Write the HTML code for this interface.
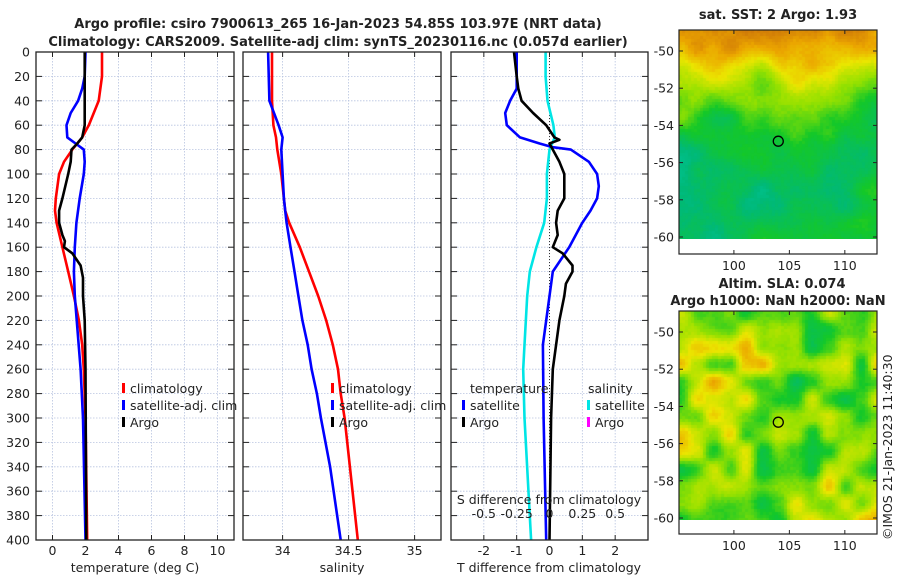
<!DOCTYPE html>
<html><head><meta charset="utf-8">
<style>
body{margin:0;background:#fff;}
#wrap{position:relative;width:900px;height:580px;overflow:hidden;font-family:"DejaVu Sans","Liberation Sans",sans-serif;}
svg{position:absolute;left:0;top:0;}
canvas{position:absolute;}
text{font-family:"DejaVu Sans","Liberation Sans",sans-serif;font-size:12.5px;fill:#222;}
.b{font-weight:bold;font-size:13px;}
</style></head>
<body>
<div id="wrap">
<canvas id="map1" width="198" height="209" style="left:679px;top:30px"></canvas>
<canvas id="map2" width="198" height="209" style="left:679px;top:311px"></canvas>
<svg id="fig" width="900" height="580" xmlns="http://www.w3.org/2000/svg"></svg>
</div>
<script>
// ---- data ----
const tDepth   = [0,20,40,60,70,80,90,100,120,130,140,160,180,200,220,240,260,300,400];
const tClim    = [3.0,3.0,2.8,2.2,1.8,1.2,0.7,0.4,0.2,0.15,0.25,0.6,0.95,1.3,1.6,1.8,1.9,2.0,2.1];
const tSatDepth= [0,20,30,40,50,60,70,75,80,90,100,120,140,160,180,200,260,300,400];
const tSat     = [2.0,1.95,1.8,1.55,1.1,0.85,0.9,1.4,1.9,1.95,1.9,1.65,1.45,1.35,1.3,1.35,1.7,1.85,2.0];
const argoDepth= [0,60,70,75,80,90,100,120,130,140,150,155,160,165,175,185,200,220,260,400];
const tArgo    = [1.95,1.95,1.8,1.5,1.15,1.1,0.95,0.6,0.4,0.4,0.6,0.75,0.7,1.2,1.7,1.85,1.85,1.95,2.0,2.05];
const sDepth   = [0,40,60,70,80,100,120,130,140,160,180,200,220,240,260,280,300,340,400];
const sClim    = [33.92,33.92,33.93,33.95,33.96,33.99,34.01,34.02,34.05,34.13,34.2,34.27,34.33,34.38,34.42,34.44,34.47,34.51,34.57];
const sSat     = [33.89,33.9,33.97,34.0,33.99,34.0,34.01,34.02,34.03,34.06,34.09,34.12,34.15,34.19,34.22,34.26,34.29,34.36,34.44];
const dDepth   = [0,20,30,40,50,60,70,75,78,80,90,100,110,120,130,140,160,180,200,220,240,300,400];
const dTSat    = [-1.0,-1.0,-1.0,-1.2,-1.35,-1.3,-0.9,-0.3,0.1,0.65,1.2,1.45,1.5,1.45,1.25,1.0,0.6,0.1,0.0,-0.1,-0.2,-0.18,-0.1];
const dArgoDepth=[0,20,30,40,50,60,70,72,75,80,90,100,120,130,140,150,160,165,175,180,190,200,220,240,260,300,400];
const dTArgo   = [-1.08,-1.0,-0.95,-0.85,-0.5,-0.1,0.15,0.3,0.0,0.1,0.3,0.45,0.45,0.25,0.2,0.25,0.1,0.4,0.7,0.7,0.5,0.45,0.3,0.2,0.1,0.05,0.0];
const dSDepth  = [0,20,40,60,70,80,100,120,140,160,180,200,240,260,300,400];
const dSSat    = [-0.03,-0.03,-0.015,0.03,0.04,0.0,-0.02,-0.02,-0.04,-0.1,-0.15,-0.17,-0.19,-0.2,-0.19,-0.14];
const depthTicks=[0,20,40,60,80,100,120,140,160,180,200,220,240,260,280,300,320,340,360,380,400];
const tTicks=[0,2,4,6,8,10];
const sTicks=[34,34.5,35];
const sTickLabels=['34','34.5','35'];
const dTTicks=[-2,-1,0,1,2];
const dSTicks=[-0.5,-0.25,0,0.25,0.5];
const latTicks=[-50,-52,-54,-56,-58,-60];
const lonTicks=[100,105,110];
const argoLon=104, argoLat=-54.85;

const NS='http://www.w3.org/2000/svg';
const svg=document.getElementById('fig');
function el(tag,attrs,parent){const e=document.createElementNS(NS,tag);for(const k in attrs)e.setAttribute(k,attrs[k]);(parent||svg).appendChild(e);return e;}
function txt(x,y,s,anchor,cls,name,extra){const t=el('text',Object.assign({x:x,y:y,'text-anchor':anchor||'middle'},extra||{}));if(cls)t.setAttribute('class',cls);t.textContent=s;


return t;}

const Y0=52,Y1=540;
const yD=d=>Y0+(d/400)*(Y1-Y0);
function lin(d0,d1,p0,p1){return v=>p0+(v-d0)/(d1-d0)*(p1-p0);}
const panels=[
 {x0:36,x1:234,sx:lin(-1,11,36,234),name:'temperature-panel'},
 {x0:243,x1:441,sx:lin(33.7,35.2,243,441),name:'salinity-panel'},
 {x0:451,x1:648,sx:lin(-3,3,451,648),name:'difference-panel'}];
const sxS=lin(-0.75,0.75,451,648);

function grid(p,xt){
 const g=el('g',{});
 
 
 depthTicks.forEach(d=>{el('line',{x1:p.x0,x2:p.x1,y1:yD(d),y2:yD(d),stroke:'#b8c4e0','stroke-width':0.8,'stroke-dasharray':'1.5,1.5'},g);
  el('line',{x1:p.x0,x2:p.x0+6,y1:yD(d),y2:yD(d),stroke:'#222'},g);
  el('line',{x1:p.x1-6,x2:p.x1,y1:yD(d),y2:yD(d),stroke:'#222'},g);});
 xt.forEach(v=>{const x=p.sx(v);el('line',{x1:x,x2:x,y1:Y0,y2:Y1,stroke:'#b8c4e0','stroke-width':0.8,'stroke-dasharray':'1.5,1.5'},g);
  el('line',{x1:x,x2:x,y1:Y1,y2:Y1-5,stroke:'#222'},g);el('line',{x1:x,x2:x,y1:Y0,y2:Y0+5,stroke:'#222'},g);});
}
function frame(p){const r=el('rect',{x:p.x0,y:Y0,width:p.x1-p.x0,height:Y1-Y0,fill:'none',stroke:'#222','stroke-width':1.3});
 
 }
function line(depths,vals,sx,color,name){
 const pts=depths.map((d,i)=>sx(vals[i]).toFixed(1)+','+yD(d).toFixed(1)).join(' ');
 const l=el('polyline',{points:pts,fill:'none',stroke:color,'stroke-width':2.6,'stroke-linejoin':'round'});
 
 }
function legend(x,y,color,label,name){
 const r=el('rect',{x:x,y:y-10,width:3,height:10,fill:color});
 
 
 txt(x+8,y,label,'start',null,name);}

// Titles
txt(338,28,'Argo profile: csiro 7900613_265 16-Jan-2023 54.85S 103.97E (NRT data)','middle','b','title-line-1');
txt(338,46,'Climatology: CARS2009. Satellite-adj clim: synTS_20230116.nc (0.057d earlier)','middle','b','title-line-2');

// Panel 1
grid(panels[0],tTicks);
depthTicks.forEach(d=>txt(30,yD(d)+4.5,String(d),'end',null,'depth-tick-'+d));
tTicks.forEach(v=>txt(panels[0].sx(v),555,String(v),'middle',null,'temp-tick-'+v));
txt(135,572,'temperature (deg C)','middle',null,'x-axis-title-temperature');
line(tDepth,tClim,panels[0].sx,'#ff0000','temp-climatology-line');
line(tSatDepth,tSat,panels[0].sx,'#0000ff','temp-satellite-line');
line(argoDepth,tArgo,panels[0].sx,'#000000','temp-argo-line');
frame(panels[0]);
legend(122,393,'#ff0000','climatology','legend-climatology');
legend(122,410,'#0000ff','satellite-adj. clim','legend-satellite-adj');
legend(122,427,'#000000','Argo','legend-argo');

// Panel 2
grid(panels[1],sTicks);
sTicks.forEach((v,i)=>txt(panels[1].sx(v),555,sTickLabels[i],'middle',null,'sal-tick-'+i));
txt(342,572,'salinity','middle',null,'x-axis-title-salinity');
line(sDepth,sClim,panels[1].sx,'#ff0000','sal-climatology-line');
line(sDepth,sSat,panels[1].sx,'#0000ff','sal-satellite-line');
frame(panels[1]);
legend(331,393,'#ff0000','climatology','legend2-climatology');
legend(331,410,'#0000ff','satellite-adj. clim','legend2-satellite-adj');
legend(331,427,'#000000','Argo','legend2-argo');

// Panel 3
grid(panels[2],dTTicks);
el('line',{x1:panels[2].sx(0),x2:panels[2].sx(0),y1:Y0,y2:Y1,stroke:'#333','stroke-width':1,'stroke-dasharray':'1,2'});
dTTicks.forEach(v=>txt(panels[2].sx(v),555,String(v),'middle',null,'dt-tick-'+v));
txt(549,572,'T difference from climatology','middle',null,'x-axis-title-tdiff');
line(dSDepth,dSSat,sxS,'#00e5e5','sdiff-satellite-line');
line(dDepth,dTSat,panels[2].sx,'#0000ff','tdiff-satellite-line');
line(dArgoDepth,dTArgo,panels[2].sx,'#000000','tdiff-argo-line');
frame(panels[2]);
txt(470,393,'temperature','start',null,'legend3-temperature-header');
legend(462,410,'#0000ff','satellite','legend3-t-satellite');
legend(462,427,'#000000','Argo','legend3-t-argo');
txt(588,393,'salinity','start',null,'legend3-salinity-header');
legend(587,410,'#00e5e5','satellite','legend3-s-satellite');
legend(587,427,'#ff00ff','Argo','legend3-s-argo');
txt(549,504,'S difference from climatology','middle',null,'s-diff-axis-title');
dSTicks.forEach(v=>txt(sxS(v),518,String(v),'middle',null,'ds-tick-'+v));

// Maps
const maps=[{top:30,bot:254,name:'sst-map',title:['sat. SST: 2 Argo: 1.93'],ty:[19]},
            {top:311,bot:534,name:'sla-map',title:['Altim. SLA: 0.074','Argo h1000: NaN h2000: NaN'],ty:[288,305]}];
const MX0=679,MX1=877;
const lonX=lin(95.05,112.9,MX0,MX1);
maps.forEach(m=>{
 const latY=lin(-50,-60,m.top+21,m.top+21+186);
 el('rect',{x:MX0,y:m.top,width:MX1-MX0,height:m.bot-m.top,fill:'none',stroke:'#222','stroke-width':1.2});
 latTicks.forEach(v=>{const y=latY(v);el('line',{x1:MX1-4,x2:MX1,y1:y,y2:y,stroke:'#222'});el('line',{x1:MX0,x2:MX0+4,y1:y,y2:y,stroke:'#222'});
  txt(MX0-5,y+4.5,String(v),'end',null,m.name+'-lat-'+v);});
 lonTicks.forEach(v=>{const x=lonX(v);el('line',{x1:x,x2:x,y1:m.bot,y2:m.bot-4,stroke:'#222'});el('line',{x1:x,x2:x,y1:m.top,y2:m.top+4,stroke:'#222'});
  txt(x,m.bot+16,String(v),'middle',null,m.name+'-lon-'+v);});
 m.title.forEach((t,i)=>txt(i==0&&m.title.length>1?782:778,m.ty[i],t,'middle','b',m.name+'-title-'+i));
 const c=el('circle',{cx:lonX(argoLon),cy:latY(argoLat),r:5,fill:'none',stroke:'#000','stroke-width':1.3});
 
 
});
txt(0,0,'©IMOS 21-Jan-2023 11:40:30','start',null,'copyright-stamp',{transform:'translate(892,540) rotate(-90)'});

// map textures
function rng(s){return function(){s=(s*1103515245+12345)&0x7fffffff;return s/0x7fffffff;};}
function noiseGrid(seed,n){const r=rng(seed);const g=[];for(let i=0;i<=n;i++){g.push([]);for(let j=0;j<=n;j++)g[i].push(r());}return g;}
function sample(g,n,x,y){x*=n;y*=n;const i=Math.min(Math.floor(x),n-1),j=Math.min(Math.floor(y),n-1);const fx=x-i,fy=y-j;const sx=fx*fx*(3-2*fx),sy=fy*fy*(3-2*fy);
 return (g[i][j]*(1-sx)+g[i+1][j]*sx)*(1-sy)+(g[i][j+1]*(1-sx)+g[i+1][j+1]*sx)*sy;}
const stops=[[0,[0,215,205]],[0.25,[0,185,120]],[0.42,[20,200,40]],[0.58,[150,225,0]],[0.72,[235,230,0]],[0.86,[235,165,0]],[1,[200,110,10]]];
function cmap(v){v=Math.max(0,Math.min(1,v));for(let k=1;k<stops.length;k++){if(v<=stops[k][0]){const a=stops[k-1],b=stops[k];const t=(v-a[0])/(b[0]-a[0]);return a[1].map((c,i)=>Math.round(c+(b[1][i]-c)*t));}}return stops[stops.length-1][1];}
function interp(xs,ys,x){if(x<=xs[0])return ys[0];for(let k=1;k<xs.length;k++)if(x<=xs[k]){const t=(x-xs[k-1])/(xs[k]-xs[k-1]);return ys[k-1]+(ys[k]-ys[k-1])*t;}return ys[ys.length-1];}
function draw(id,f,seed){
 const cv=document.getElementById(id),ctx=cv.getContext('2d');
 const g1=noiseGrid(seed,5),g2=noiseGrid(seed+7,12),r=rng(seed+3);
 const cs=3,dataH=209;
 for(let y=0;y<dataH;y+=cs)for(let x=0;x<198;x+=cs){
  const u=x/198,w=y/dataH;
  const v=f(u,w,sample(g1,5,u,w),sample(g2,12,u,w),r());
  const c=cmap(v);ctx.fillStyle='rgb('+c.join(',')+')';ctx.fillRect(x,y,cs,cs);}
}
draw('map1',(u,w,n1,n2,rr)=>{
 let base=interp([0,0.1,0.2,0.3,0.42,0.55,1],[0.9,0.82,0.68,0.55,0.45,0.38,0.33],w);
 if(w>0.45)base-=0.1*Math.max(0,1-u*1.6)*Math.min(1,(w-0.45)*6);
 return base+(n1-0.5)*0.2+(n2-0.5)*0.1+(rr-0.5)*0.03;
},11);
draw('map2',(u,w,n1,n2,rr)=>0.55+(n1-0.5)*0.3+(n2-0.5)*0.4+(rr-0.5)*0.03,29);
</script>
</body></html>
